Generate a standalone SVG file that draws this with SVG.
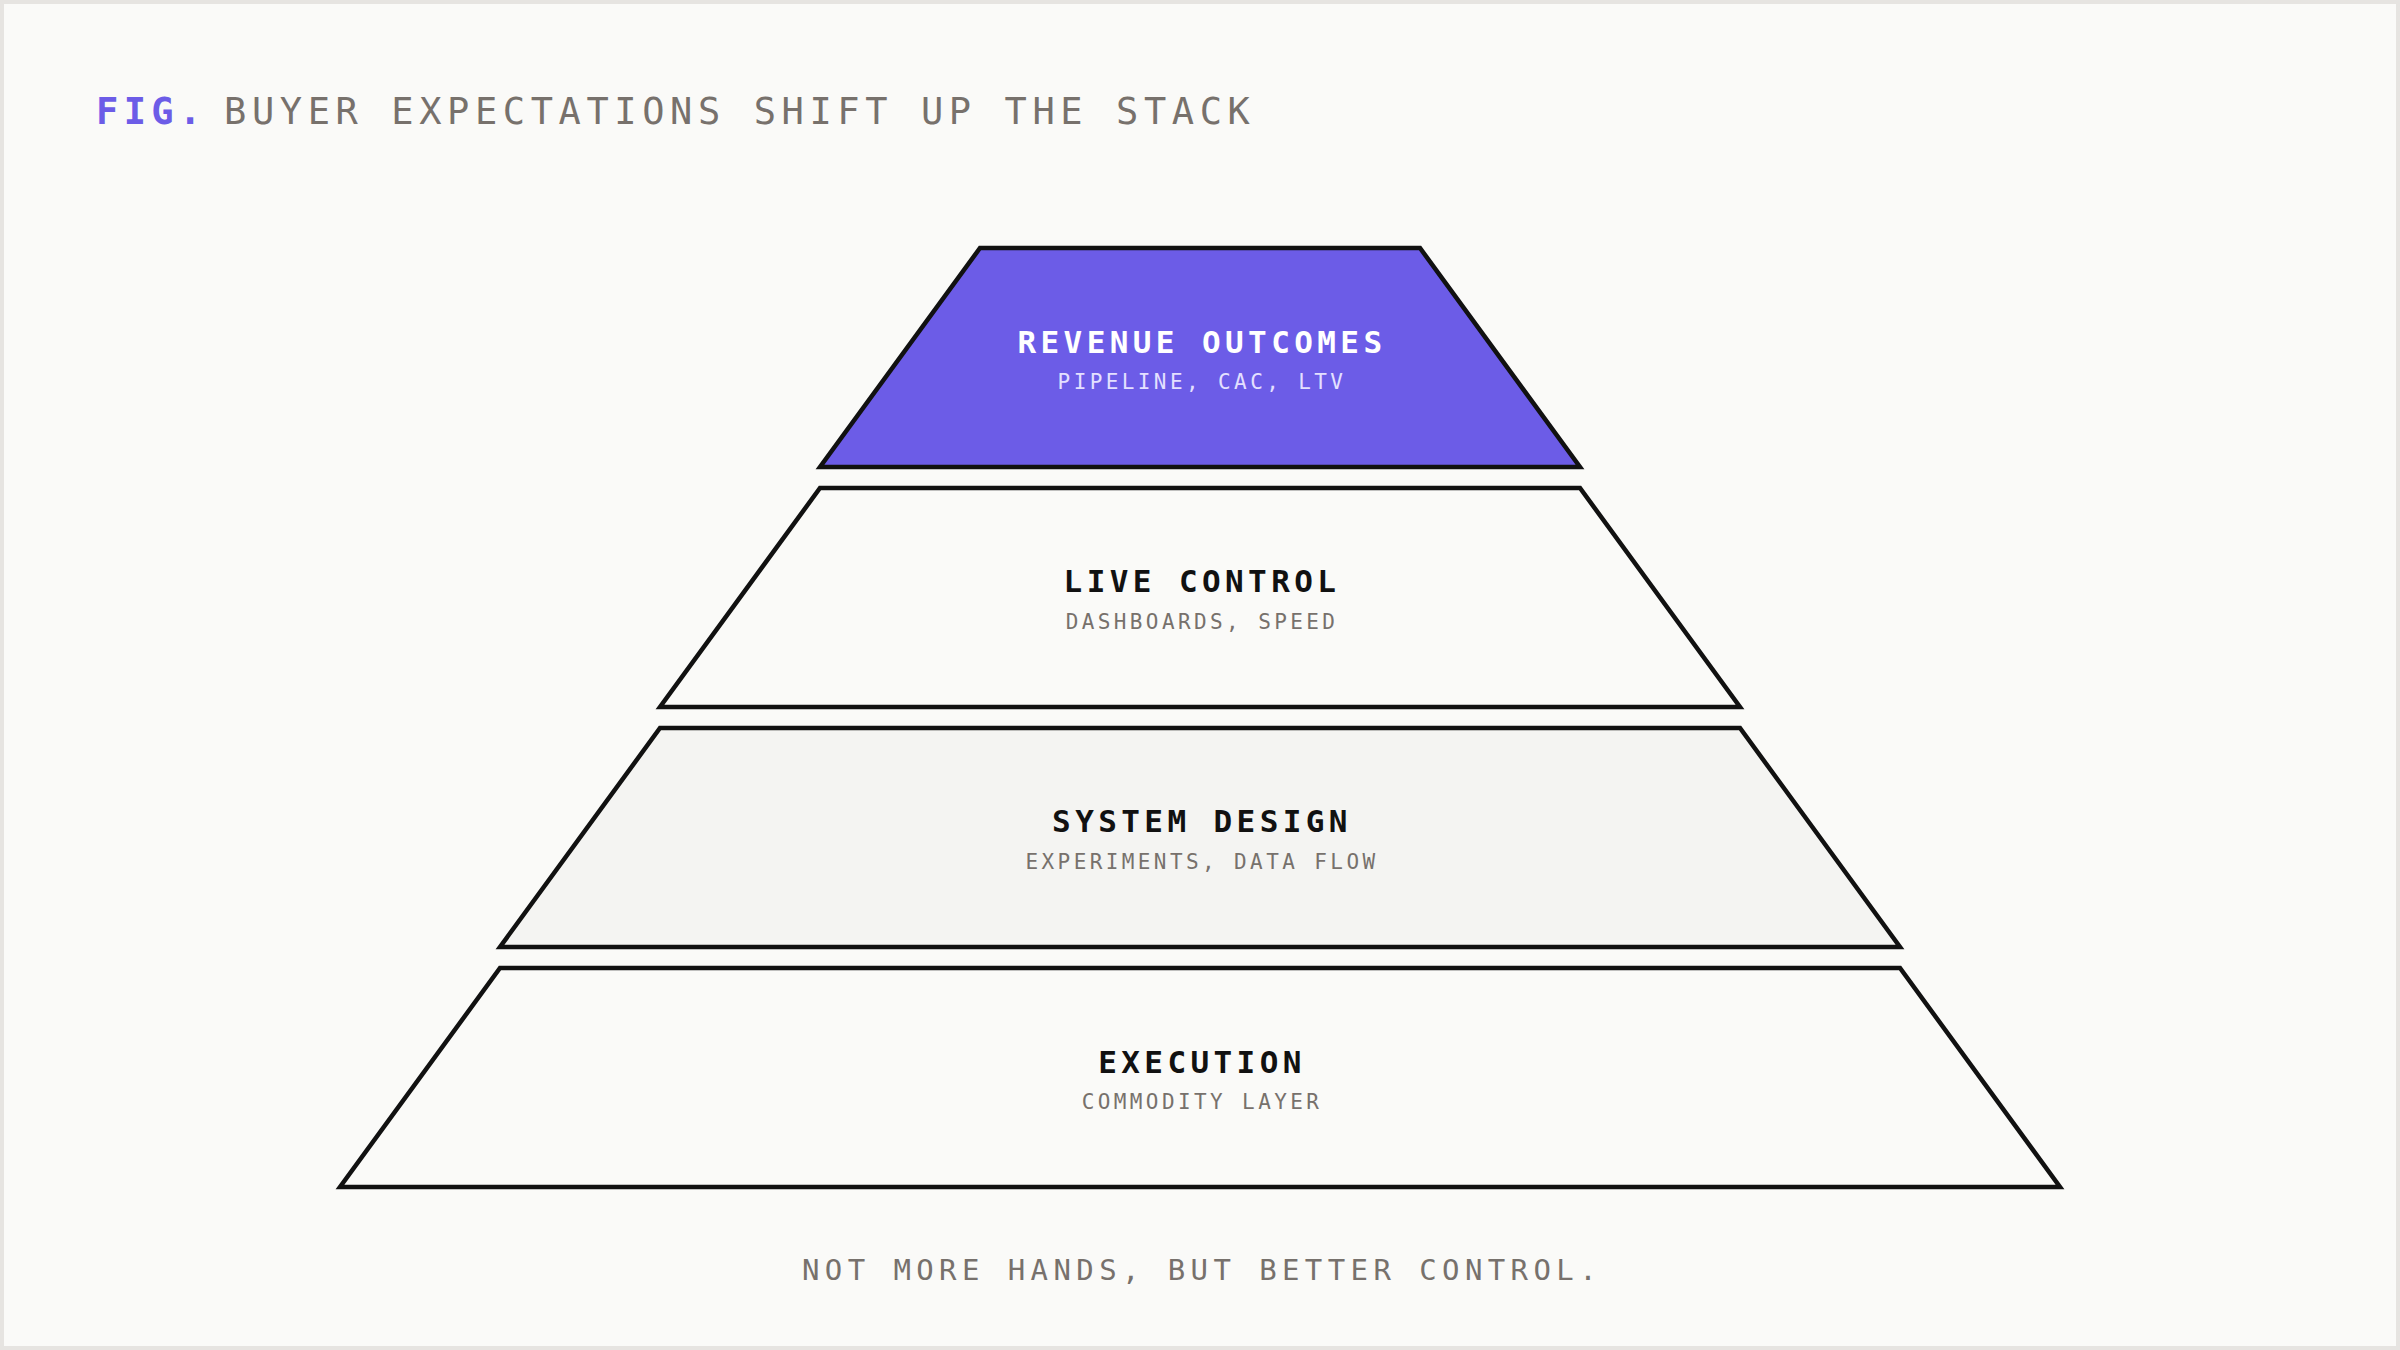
<svg xmlns="http://www.w3.org/2000/svg" width="2400" height="1350" viewBox="0 0 2400 1350">
<style>
.mono{font-family:"DejaVu Sans Mono","Liberation Mono",monospace;}
.layer{stroke:#111111;stroke-width:4.5;stroke-linejoin:miter;}
.ttl{font-size:31px;font-weight:bold;letter-spacing:4.4px;text-anchor:middle;fill:#111111;}
.sub{font-size:21px;letter-spacing:3.4px;text-anchor:middle;fill:#77716c;}
</style>
<rect x="2" y="2" width="2396" height="1346" fill="#fafaf8" stroke="#e6e4e1" stroke-width="4"/>
<g id="title" class="mono">
<text x="96" y="124" font-size="37" font-weight="bold" letter-spacing="5.4" fill="#6c5ce7">FIG.</text>
<text x="224" y="124" font-size="37" letter-spacing="5.6" fill="#77716c">BUYER EXPECTATIONS SHIFT UP THE STACK</text>
</g>
<g id="connectors"></g>
<g id="node-revenue">
<polygon class="layer" points="980,248 1420,248 1580,467 820,467" fill="#6c5ce7"/>
<text class="mono ttl" x="1202" y="353" style="fill:#ffffff">REVENUE OUTCOMES</text>
<text class="mono sub" x="1202" y="389" style="fill:#e4e0ff">PIPELINE, CAC, LTV</text>
</g>
<g id="node-live">
<polygon class="layer" points="820,488 1580,488 1740,707 660,707" fill="#fafaf8"/>
<text class="mono ttl" x="1202" y="592">LIVE CONTROL</text>
<text class="mono sub" x="1202" y="629">DASHBOARDS, SPEED</text>
</g>
<g id="node-system">
<polygon class="layer" points="660,728 1740,728 1900,947 500,947" fill="#f4f4f2"/>
<text class="mono ttl" x="1202" y="832">SYSTEM DESIGN</text>
<text class="mono sub" x="1202" y="869">EXPERIMENTS, DATA FLOW</text>
</g>
<g id="node-execution">
<polygon class="layer" points="500,968 1900,968 2060,1187 340,1187" fill="#fafaf8"/>
<text class="mono ttl" x="1202" y="1073">EXECUTION</text>
<text class="mono sub" x="1202" y="1109">COMMODITY LAYER</text>
</g>
<g id="caption" class="mono">
<text x="1202" y="1280" font-size="29" letter-spacing="5.4" text-anchor="middle" fill="#77716c">NOT MORE HANDS, BUT BETTER CONTROL.</text>
</g>
</svg>
